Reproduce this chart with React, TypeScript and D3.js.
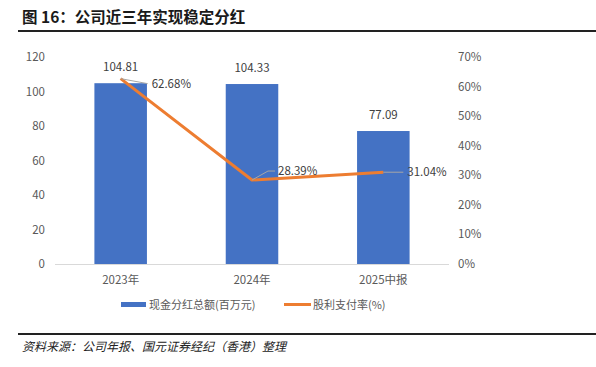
import React from "react";
import * as d3 from "d3";

const categories = ["2023年", "2024年", "2025中报"];
const dividendTotal = [104.81, 104.33, 77.09];
const payoutRatio = [62.68, 28.39, 31.04];
const leftTicks = [0, 20, 40, 60, 80, 100, 120];
const rightTicks = [0, 10, 20, 30, 40, 50, 60, 70];
const barLabels = ["104.81", "104.33", "77.09"];
const lineLabels = ["62.68%", "28.39%", "31.04%"];

const W = 596, H = 367;
const plotLeft = 55, plotRight = 449, plotTop = 57, plotBottom = 264;
const GRAY = "#595959";
const BLUE = "#4472C4";
const ORANGE = "#ED7D31";
const CJK = "'Noto Sans CJK SC', 'Noto Sans', sans-serif";

export default function App() {
  const x = d3.scaleBand<string>().domain(categories).range([plotLeft, plotRight]).paddingInner(0.6).paddingOuter(0.3);
  const yL = d3.scaleLinear().domain([0, 120]).range([plotBottom, plotTop]);
  const yR = d3.scaleLinear().domain([0, 70]).range([plotBottom, plotTop]);
  const cx = (c: string) => (x(c) as number) + x.bandwidth() / 2;
  const line = d3.line<number>().x((_, i) => cx(categories[i])).y((d) => yR(d));

  // leader-line offsets for line labels (style only)
  const leaders = [
    { dx1: 27, dy1: 5, tx: 31, ty: 5 },
    { dx1: 16, dy1: -9, dx2: 23, tx: 26, ty: -9 },
    { dx1: 20, dy1: 0, tx: 24, ty: 0 },
  ];

  return (
    <svg width={W} height={H} style={{ position: "absolute", left: 0, top: 0, background: "#fff" }}>
      <text x={22} y={23} fontFamily={CJK} fontWeight="bold" fontSize={15.5} fill="#1a1a1a">
        图 16：公司近三年实现稳定分红
      </text>
      <rect x={18} y={30} width={W - 18} height={2} fill="#222" />

      {/* left axis ticks */}
      {leftTicks.map((t) => (
        <text key={"l" + t} x={45} y={yL(t)} dy="0.35em" textAnchor="end" fontFamily={CJK} fontSize={11.5} fill={GRAY}>
          {t}
        </text>
      ))}
      {rightTicks.map((t) => (
        <text key={"r" + t} x={458} y={yR(t)} dy="0.35em" textAnchor="start" fontFamily={CJK} fontSize={11.5} fill={GRAY}>
          {t}%
        </text>
      ))}

      {/* bars */}
      {categories.map((c, i) => (
        <rect key={c} x={x(c)} y={yL(dividendTotal[i])} width={x.bandwidth()} height={plotBottom - yL(dividendTotal[i])} fill={BLUE} />
      ))}
      <line x1={plotLeft} x2={plotRight} y1={plotBottom + 0.5} y2={plotBottom + 0.5} stroke="#d9d9d9" strokeWidth={1} />

      {/* bar labels */}
      {categories.map((c, i) => (
        <text key={"bl" + c} x={cx(c)} y={yL(dividendTotal[i]) - 12} textAnchor="middle" fontFamily={CJK} fontSize={11.5} fill="#404040">
          {barLabels[i]}
        </text>
      ))}

      {/* line */}
      <path d={line(payoutRatio) || ""} fill="none" stroke={ORANGE} strokeWidth={3} strokeLinejoin="round" />

      {/* line labels with leaders */}
      {categories.map((c, i) => {
        const px = cx(c), py = yR(payoutRatio[i]);
        const L = leaders[i];
        const pts = L.dx2 !== undefined
          ? `${px},${py} ${px + L.dx1},${py + L.dy1} ${px + L.dx2},${py + L.dy1}`
          : `${px},${py} ${px + L.dx1},${py + L.dy1}`;
        return (
          <g key={"ll" + c}>
            <polyline points={pts} fill="none" stroke="#a6a6a6" strokeWidth={1} />
            <text x={px + L.tx} y={py + L.ty} dy="0.35em" fontFamily={CJK} fontSize={11.5} fill="#404040">
              {lineLabels[i]}
            </text>
          </g>
        );
      })}

      {/* x labels */}
      {categories.map((c) => (
        <text key={"x" + c} x={cx(c)} y={284} textAnchor="middle" fontFamily={CJK} fontSize={11.5} fill={GRAY}>
          {c}
        </text>
      ))}

      {/* legend */}
      <rect x={121} y={302} width={25} height={5} fill={BLUE} />
      <text x={149} y={305} dy="0.35em" fontFamily={CJK} fontSize={11} fill={GRAY}>现金分红总额(百万元)</text>
      <line x1={284} x2={311} y1={304.5} y2={304.5} stroke={ORANGE} strokeWidth={3} />
      <text x={313} y={305} dy="0.35em" fontFamily={CJK} fontSize={11} fill={GRAY}>股利支付率(%)</text>

      <rect x={18} y={333} width={W - 18} height={2} fill="#222" />
      <text x={22} y={351} fontFamily={CJK} fontStyle="italic" fontSize={12} fill="#222" transform="skewX(0)">
        资料来源：公司年报、国元证券经纪（香港）整理
      </text>
    </svg>
  );
}
